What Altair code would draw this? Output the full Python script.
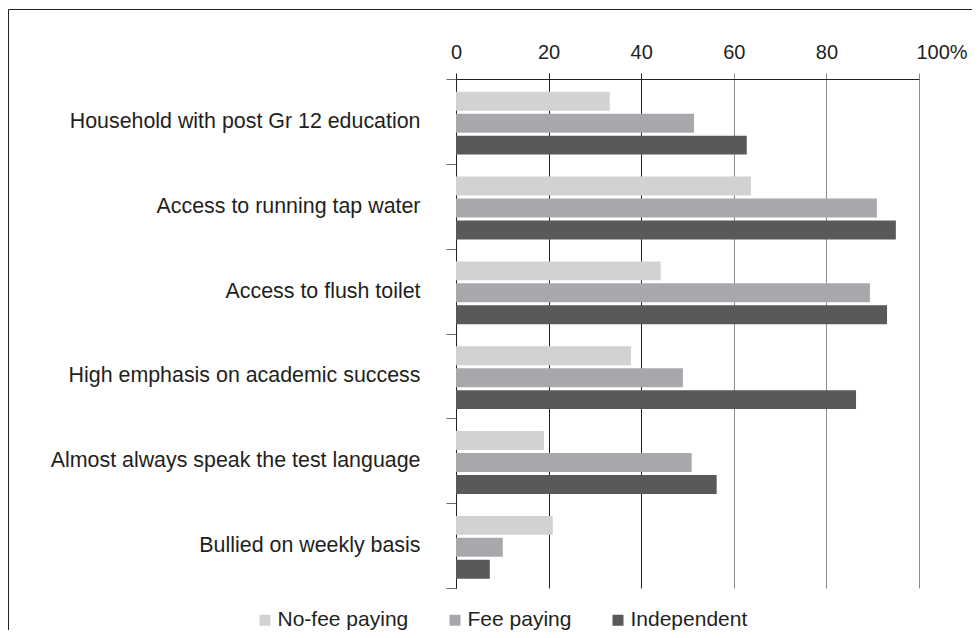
import altair as alt
import pandas as pd

categories = [
    "Household with post Gr 12 education",
    "Access to running tap water",
    "Access to flush toilet",
    "High emphasis on academic success",
    "Almost always speak the test language",
    "Bullied on weekly basis",
]
series = ["No-fee paying", "Fee paying", "Independent"]
no_fee = [33.2, 63.7, 44.2, 37.8, 19.0, 20.9]
fee = [51.4, 90.9, 89.4, 49.0, 50.9, 10.1]
independent = [62.8, 95.0, 93.1, 86.4, 56.3, 7.3]
colors = ["#d1d2d4", "#a7a8ab", "#58595b"]
x_ticks = [0, 20, 40, 60, 80, 100]

rows = []
for i, c in enumerate(categories):
    for s, vals in zip(series, [no_fee, fee, independent]):
        rows.append({"category": c, "series": s, "value": vals[i]})
df = pd.DataFrame(rows)

FONT = "Liberation Sans"
TEXT = "#231f20"

dark_light = {"condition": {"test": "datum.value <= 40", "value": "#231f20"}, "value": "#8c8c8c"}

bars = alt.Chart(df).mark_bar().encode(
    x=alt.X(
        "value:Q",
        scale=alt.Scale(domain=[0, 100], nice=False, zero=True),
        axis=alt.Axis(
            orient="top",
            values=x_ticks,
            title=None,
            labelExpr="datum.value == 100 ? '100%' : datum.label",
            labelAlign={"condition": {"test": "datum.value == 100", "value": "left"}, "value": "center"},
            labelOffset={"condition": {"test": "datum.value == 100", "value": -3}, "value": 0},
            labelFont=FONT,
            labelFontSize=20,
            labelColor=TEXT,
            labelPadding=11,
            tickSize=6,
            tickColor=dark_light,
            grid=True,
            gridColor=dark_light,
            gridWidth=1,
            domain=True,
            domainColor="#231f20",
        ),
    ),
    y=alt.Y(
        "category:N",
        sort=categories,
        scale=alt.Scale(paddingInner=0, paddingOuter=0),
        axis=alt.Axis(
            title=None,
            tickBand="extent",
            tickSize=10,
            tickColor="#6d6e71",
            domainColor="#231f20",
            labelFont=FONT,
            labelFontSize=21.4,
            labelColor=TEXT,
            labelPadding=26,
            labelLimit=600,
        ),
    ),
    yOffset=alt.YOffset(
        "series:N",
        sort=series,
        scale=alt.Scale(paddingInner=0.136, paddingOuter=0.5, align=0.58),
    ),
    color=alt.Color(
        "series:N",
        sort=series,
        scale=alt.Scale(domain=series, range=colors),
        legend=alt.Legend(
            title=None,
            orient="none",
            direction="horizontal",
            legendX=-201.5,
            legendY=530.5,
            symbolType="square",
            symbolSize=121,
            symbolStrokeWidth=0,
            labelFont=FONT,
            labelFontSize=21,
            labelColor=TEXT,
            labelOffset=2,
            columnPadding=36,
            padding=0,
        ),
    ),
)

frame = alt.Chart(alt.Data(values=[{}])).mark_rect(
    fillOpacity=0, stroke="#231f20", strokeWidth=1
).encode(
    x=alt.value(-447.5),
    x2=alt.value(800),
    y=alt.value(-69.5),
    y2=alt.value(800),
)

chart = alt.layer(bars, frame).properties(
    width=463,
    height=509,
    padding={"left": 448, "top": 71, "right": 53, "bottom": 42},
    autosize=alt.AutoSizeParams(type="none"),
).configure_view(stroke=None)

chart.save("out.html", embed_options={"renderer": "svg", "actions": False})
